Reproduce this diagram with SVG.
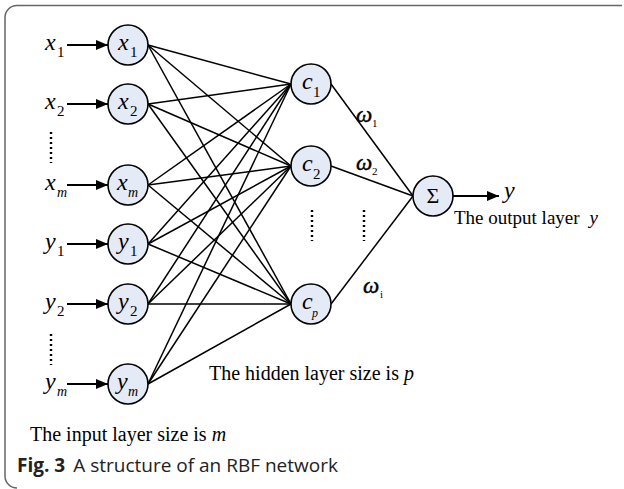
<svg xmlns="http://www.w3.org/2000/svg" width="624" height="489" viewBox="0 0 624 489">
  <defs>
    <marker id="arrow" viewBox="0 0 12 10" refX="12" refY="5" markerWidth="12" markerHeight="10" markerUnits="userSpaceOnUse" orient="auto">
      <path d="M0,0 L12,5 L0,10 Z" fill="#000"/>
    </marker>
    <style>
      .node { fill: #e4eaf6; stroke: #000; stroke-width: 1.6; }
      .edge { stroke: #000; stroke-width: 1.5; fill: none; }
      .arr { stroke: #000; stroke-width: 1.8; fill: none; marker-end: url(#arrow); }
      .dots { stroke: #000; stroke-width: 2.4; stroke-dasharray: 2 3; fill: none; }
      .var { font-family: "Liberation Serif", "Times New Roman", serif; font-style: italic; font-size: 24px; fill: #000; }
      .sub { font-family: "Liberation Serif", "Times New Roman", serif; font-size: 15px; fill: #000; }
      .subi { font-family: "Liberation Serif", "Times New Roman", serif; font-style: italic; font-size: 14px; fill: #000; }
      .lab { font-family: "Liberation Serif", "Times New Roman", serif; font-size: 20px; fill: #000; }
      .w { font-family: "Liberation Serif", "Times New Roman", serif; font-style: italic; font-size: 23px; fill: #000; stroke: #000; stroke-width: 0.4; }
      .wsub { font-family: "Liberation Serif", "Times New Roman", serif; font-size: 11px; fill: #000; }
      .cap { font-family: "Open Sans", "Noto Sans", sans-serif; font-size: 19px; fill: #222; }
    </style>
  </defs>

  <!-- frame -->
  <path d="M622,5.5 H17 A12,12 0 0 0 5,17.5 V476 A12,12 0 0 0 17,488" fill="none" stroke="#666" stroke-width="1.5"/>

  <!-- connectors -->
  <g id="connectors">
    <!-- input to hidden -->
    <line class="edge" x1="148" y1="45" x2="291" y2="84"/>
    <line class="edge" x1="148" y1="45" x2="291" y2="166"/>
    <line class="edge" x1="148" y1="45" x2="291" y2="304"/>
    <line class="edge" x1="148" y1="104" x2="291" y2="84"/>
    <line class="edge" x1="148" y1="104" x2="291" y2="166"/>
    <line class="edge" x1="148" y1="104" x2="291" y2="304"/>
    <line class="edge" x1="148" y1="185" x2="291" y2="84"/>
    <line class="edge" x1="148" y1="185" x2="291" y2="166"/>
    <line class="edge" x1="148" y1="185" x2="291" y2="304"/>
    <line class="edge" x1="148" y1="244" x2="291" y2="84"/>
    <line class="edge" x1="148" y1="244" x2="291" y2="166"/>
    <line class="edge" x1="148" y1="244" x2="291" y2="304"/>
    <line class="edge" x1="148" y1="304" x2="291" y2="84"/>
    <line class="edge" x1="148" y1="304" x2="291" y2="166"/>
    <line class="edge" x1="148" y1="304" x2="291" y2="304"/>
    <line class="edge" x1="148" y1="384" x2="291" y2="84"/>
    <line class="edge" x1="148" y1="384" x2="291" y2="166"/>
    <line class="edge" x1="148" y1="384" x2="291" y2="304"/>
    <!-- hidden to output -->
    <line class="edge" x1="331" y1="84" x2="413" y2="196"/>
    <line class="edge" x1="331" y1="166" x2="413" y2="196"/>
    <line class="edge" x1="331" y1="304" x2="413" y2="196"/>
    <!-- input arrows -->
    <line class="arr" x1="67" y1="45" x2="108" y2="45"/>
    <line class="arr" x1="67" y1="104" x2="108" y2="104"/>
    <line class="arr" x1="67" y1="185" x2="108" y2="185"/>
    <line class="arr" x1="67" y1="244" x2="108" y2="244"/>
    <line class="arr" x1="67" y1="304" x2="108" y2="304"/>
    <line class="arr" x1="67" y1="384" x2="108" y2="384"/>
    <!-- output arrow -->
    <line class="arr" x1="453" y1="196" x2="499" y2="196"/>
  </g>

  <!-- input labels -->
  <g id="input-labels">
    <text class="var" x="45" y="50">x</text><text class="sub" x="57" y="57">1</text>
    <text class="var" x="45" y="109">x</text><text class="sub" x="57" y="116">2</text>
    <text class="var" x="45" y="190">x</text><text class="subi" x="57" y="197">m</text>
    <text class="var" x="45" y="249">y</text><text class="sub" x="57" y="256">1</text>
    <text class="var" x="45" y="309">y</text><text class="sub" x="57" y="316">2</text>
    <text class="var" x="45" y="389">y</text><text class="subi" x="57" y="396">m</text>
    <line class="dots" x1="51" y1="132" x2="51" y2="163"/>
    <line class="dots" x1="51" y1="334" x2="51" y2="365"/>
  </g>

  <!-- input layer -->
  <g id="in-x1"><circle class="node" cx="128" cy="45" r="20"/><text class="var" x="118" y="50">x</text><text class="sub" x="130" y="57">1</text></g>
  <g id="in-x2"><circle class="node" cx="128" cy="104" r="20"/><text class="var" x="118" y="109">x</text><text class="sub" x="130" y="116">2</text></g>
  <g id="in-xm"><circle class="node" cx="128" cy="185" r="20"/><text class="var" x="117" y="190">x</text><text class="subi" x="128" y="197">m</text></g>
  <g id="in-y1"><circle class="node" cx="128" cy="244" r="20"/><text class="var" x="118" y="249">y</text><text class="sub" x="130" y="256">1</text></g>
  <g id="in-y2"><circle class="node" cx="128" cy="304" r="20"/><text class="var" x="118" y="309">y</text><text class="sub" x="130" y="316">2</text></g>
  <g id="in-ym"><circle class="node" cx="128" cy="384" r="20"/><text class="var" x="117" y="389">y</text><text class="subi" x="128" y="396">m</text></g>

  <!-- hidden layer -->
  <g id="h-c1"><circle class="node" cx="311" cy="84" r="20"/><text class="var" x="302" y="89">c</text><text class="sub" x="313" y="97">1</text></g>
  <g id="h-c2"><circle class="node" cx="311" cy="166" r="20"/><text class="var" x="302" y="171">c</text><text class="sub" x="313" y="179">2</text></g>
  <g id="h-cp"><circle class="node" cx="311" cy="304" r="20"/><text class="var" x="302" y="309">c</text><text class="subi" x="312" y="317" style="font-size:12px">p</text></g>
  <line class="dots" x1="312" y1="210" x2="312" y2="241"/>
  <line class="dots" x1="364" y1="210" x2="364" y2="241"/>

  <!-- weights -->
  <g id="weights">
    <text class="w" x="356" y="122">ω</text><text class="wsub" x="372" y="127">1</text>
    <text class="w" x="356" y="170">ω</text><text class="wsub" x="372" y="175">2</text>
    <text class="w" x="363" y="293">ω</text><text class="wsub" x="380" y="298">i</text>
  </g>

  <!-- output node -->
  <g id="out-sum"><circle class="node" cx="433" cy="196" r="20"/><text x="433" y="203" text-anchor="middle" style="font-family:'Liberation Serif','Times New Roman',serif;font-size:22px">Σ</text></g>
  <text class="var" x="504" y="198">y</text>

  <!-- layer descriptions -->
  <text class="lab" x="454" y="224" style="font-size:19px">The output layer<tspan dx="10" font-style="italic">y</tspan></text>
  <text class="lab" x="209" y="380">The hidden layer size is <tspan font-style="italic">p</tspan></text>
  <text class="lab" x="30" y="441">The input layer size is <tspan font-style="italic">m</tspan></text>

  <!-- caption -->
  <text class="cap" x="17" y="472"><tspan font-weight="bold">Fig. 3</tspan><tspan dx="8">A structure of an RBF network</tspan></text>
</svg>
